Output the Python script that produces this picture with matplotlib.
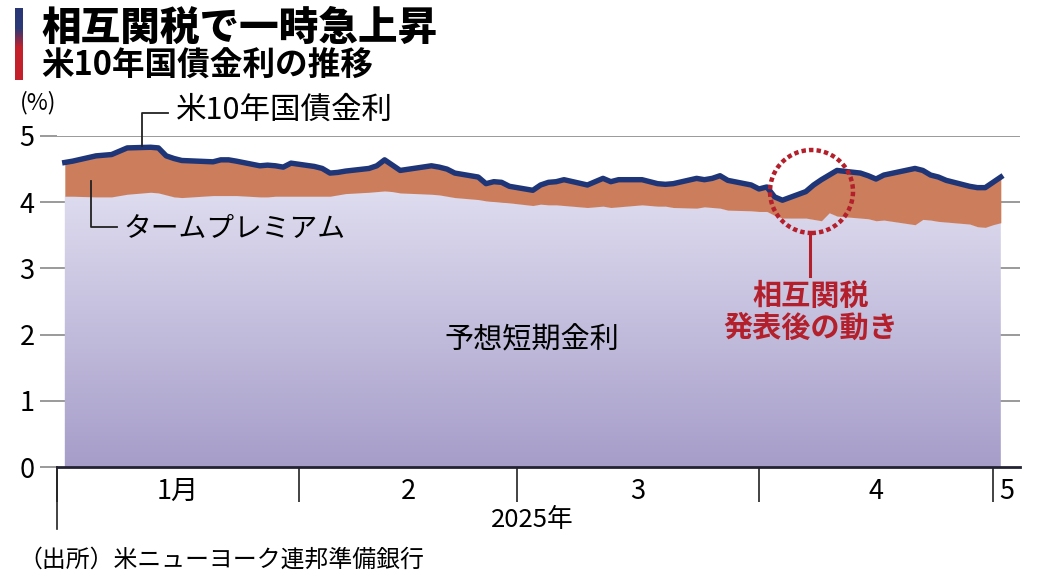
import matplotlib
matplotlib.use("Agg")
import matplotlib.pyplot as plt
import matplotlib.dates as mdates
import numpy as np
import pandas as pd
from matplotlib.colors import LinearSegmentedColormap
from matplotlib.lines import Line2D
from matplotlib.patches import Ellipse

plt.rcParams["font.family"] = ["Noto Sans CJK JP", "DejaVu Sans"]

# data (daily, 2025)
dates = [
    "01-02", "01-03", "01-06", "01-07", "01-08", "01-10", "01-13", "01-14", "01-15", "01-16",
    "01-17", "01-21", "01-22", "01-23", "01-24", "01-27", "01-28", "01-29", "01-30", "01-31",
    "02-03", "02-04", "02-05", "02-06", "02-07", "02-10", "02-11", "02-12", "02-13", "02-14",
    "02-18", "02-19", "02-20", "02-21", "02-24", "02-25", "02-26", "02-27", "02-28",
    "03-03", "03-04", "03-05", "03-06", "03-07", "03-10", "03-11", "03-12", "03-13", "03-14",
    "03-17", "03-18", "03-19", "03-20", "03-21", "03-24", "03-25", "03-26", "03-27", "03-28",
    "03-31", "04-01", "04-02", "04-03", "04-04", "04-07", "04-08", "04-09", "04-10", "04-11",
    "04-14", "04-15", "04-16", "04-17", "04-21", "04-22", "04-23", "04-24", "04-25",
    "04-28", "04-29", "04-30", "05-01", "05-02",
]
yield_10y = [
    4.60, 4.62, 4.70, 4.71, 4.72, 4.82, 4.83, 4.82, 4.70, 4.66,
    4.63, 4.61, 4.64, 4.64, 4.62, 4.55, 4.56, 4.55, 4.53, 4.59,
    4.54, 4.51, 4.44, 4.45, 4.47, 4.51, 4.55, 4.64, 4.56, 4.48,
    4.55, 4.53, 4.50, 4.44, 4.38, 4.28, 4.31, 4.30, 4.24,
    4.18, 4.26, 4.30, 4.31, 4.34, 4.26, 4.31, 4.36, 4.31, 4.34,
    4.34, 4.31, 4.28, 4.27, 4.28, 4.36, 4.34, 4.36, 4.40, 4.33,
    4.26, 4.20, 4.23, 4.08, 4.03, 4.16, 4.26, 4.34, 4.41, 4.48,
    4.44, 4.40, 4.35, 4.41, 4.51, 4.48, 4.41, 4.38, 4.33,
    4.24, 4.22, 4.22, 4.30, 4.38,
]
expected_short = [
    4.09, 4.09, 4.08, 4.08, 4.08, 4.12, 4.15, 4.14, 4.11, 4.08,
    4.07, 4.10, 4.10, 4.10, 4.10, 4.08, 4.08, 4.09, 4.09, 4.09,
    4.09, 4.09, 4.09, 4.11, 4.13, 4.15, 4.16, 4.17, 4.16, 4.14,
    4.12, 4.11, 4.09, 4.07, 4.04, 4.02, 4.01, 4.00, 3.99,
    3.95, 3.97, 3.96, 3.96, 3.95, 3.92, 3.93, 3.94, 3.92, 3.93,
    3.96, 3.95, 3.94, 3.94, 3.92, 3.91, 3.93, 3.92, 3.91, 3.88,
    3.87, 3.86, 3.86, 3.80, 3.76, 3.76, 3.74, 3.72, 3.84, 3.79,
    3.76, 3.75, 3.72, 3.73, 3.66, 3.74, 3.73, 3.71, 3.70,
    3.67, 3.63, 3.62, 3.66, 3.69,
]
month_starts = ["01-01", "02-01", "03-01", "04-01", "05-01"]
month_labels = ["1月", "2", "3", "4", "5"]
y_ticks = [0, 1, 2, 3, 4, 5]

W, H = 1040, 581


def fx(px):
    return px / W


def fy(py):
    return 1 - py / H


x = mdates.date2num(pd.to_datetime(["2025-" + d for d in dates]))
yld = np.array(yield_10y)
exp_ = np.array(expected_short)
bounds = mdates.date2num(pd.to_datetime(["2025-" + d for d in month_starts]))
x0 = bounds[0]
x1 = x0 + 123.46

fig = plt.figure(figsize=(W / 100, H / 100), dpi=100)
ax = fig.add_axes([fx(57), fy(467), fx(1020) - fx(57), fy(136) - fy(467)])
ax.set_xlim(x0, x1)
ax.set_ylim(0, 5)

# gridlines
for v in y_ticks[1:]:
    ax.axhline(v, color="#9a9a9a", lw=1.4, zorder=0)

# gradient area (expected short-term rate)
poly = ax.fill_between(x, 0, exp_, color="none", lw=0, zorder=1)
cmap = LinearSegmentedColormap.from_list("lav", ["#a69dc9", "#dedcef"])
grad = np.linspace(0, 1, 256).reshape(-1, 1)
img = ax.imshow(grad, cmap=cmap, origin="lower", aspect="auto",
                extent=[x0, x1, 0, 4.15], zorder=1, interpolation="bilinear")
img.set_clip_path(poly.get_paths()[0], transform=ax.transData)
ax.fill_between(x, 4.1, exp_, where=exp_ > 4.1, color="#dedcef", lw=0, zorder=1)

# term premium
ax.fill_between(x, exp_, yld, color="#cc7d5b", lw=0, zorder=2)
# 10y yield
ax.plot(x, yld, color="#1e3577", lw=3.9, solid_joinstyle="round", zorder=3)

ax.set_xlim(x0, x1)
ax.set_ylim(0, 5)

# axes styling
for s in ["top", "right", "left"]:
    ax.spines[s].set_visible(False)
ax.spines["bottom"].set_color("#222233")
ax.spines["bottom"].set_linewidth(2)
ax.spines["bottom"].set_zorder(4)

ax.set_yticks(y_ticks)
ax.set_yticklabels([str(v) for v in y_ticks], fontsize=19.5)
ax.tick_params(axis="y", length=12, width=1.4, color="#9a9a9a", pad=4)

ax.set_xticks(bounds)
ax.set_xticklabels([""] * len(bounds))
ax.tick_params(axis="x", which="major", length=25, width=1.2, color="#222222", direction="out")
mids = [(bounds[i] + (bounds[i + 1] if i + 1 < len(bounds) else x1)) / 2 for i in range(len(bounds))]
ax.set_xticks(mids, minor=True)
ax.set_xticklabels(month_labels, minor=True, fontsize=19.5)
ax.tick_params(axis="x", which="minor", length=0, pad=8)
# longer first tick
ax.plot([x0, x0], [0, -0.93], color="#222222", lw=1.2, clip_on=False, zorder=4)

# title block
bar = fig.add_axes([fx(15), fy(80), fx(8), fy(8) - fy(80)])
bar_cmap = LinearSegmentedColormap.from_list(
    "bar", [(0, "#c3202b"), (0.45, "#c3202b"), (0.72, "#2c3a78"), (1, "#283676")])
bar.imshow(np.linspace(0, 1, 100).reshape(-1, 1), cmap=bar_cmap, origin="lower", aspect="auto")
bar.axis("off")

fig.text(fx(41), fy(28), "相互関税で一時急上昇", fontsize=28.5, weight="black", va="center", ha="left")
fig.text(fx(41), fy(66), "米10年国債金利の推移", fontsize=23.5, weight="bold", va="center", ha="left")
fig.text(fx(20), fy(103), "(%)", fontsize=16.5, va="center", ha="left")

# labels with leader lines
lc = "#222222"
fig.add_artist(Line2D([fx(141.5), fx(141.5), fx(168)], [fy(146), fy(113), fy(113)], color=lc, lw=1.3))
fig.text(fx(176), fy(110), "米10年国債金利", fontsize=22, va="center", ha="left")
fig.add_artist(Line2D([fx(91), fx(91), fx(117)], [fy(181), fy(227), fy(227)], color=lc, lw=1.3))
fig.text(fx(123), fy(228), "タームプレミアム", fontsize=20, va="center", ha="left")
fig.text(fx(532), fy(340), "予想短期金利", fontsize=21, va="center", ha="center")

# reciprocal tariff annotation
red = "#b3202c"
fig.add_artist(Ellipse((fx(811.5), fy(191.5)), fx(83), 83 / H, fill=False, edgecolor=red,
                       lw=3.2, linestyle=(0, (1, 0.7)), zorder=5))
fig.add_artist(Line2D([fx(810), fx(810)], [fy(234), fy(276)], color=red, lw=2.2))
fig.text(fx(811), fy(296), "相互関税", fontsize=21, weight="bold", color=red, va="center", ha="center")
fig.text(fx(811), fy(328), "発表後の動き", fontsize=21, weight="bold", color=red, va="center", ha="center")

fig.text(fx(532), fy(520), "2025年", fontsize=18.5, va="center", ha="center")
fig.text(fx(18), fy(560), "（出所）米ニューヨーク連邦準備銀行", fontsize=17.2, va="center", ha="left")

fig.savefig("out.png", dpi=100)
